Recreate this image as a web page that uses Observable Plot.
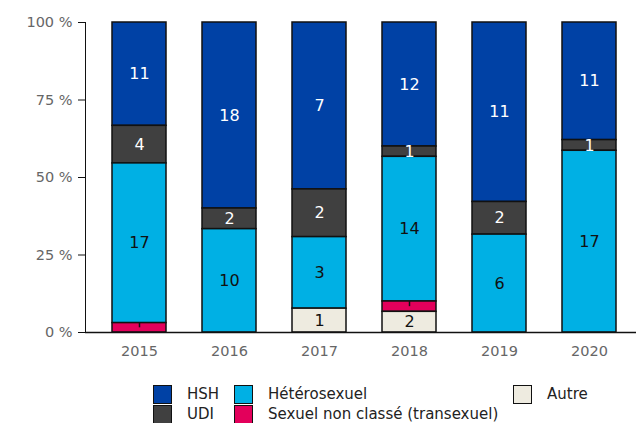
<!DOCTYPE html>
<html>
<head>
<meta charset="utf-8">
<script src="https://cdn.jsdelivr.net/npm/d3@7"></script>
<script src="https://cdn.jsdelivr.net/npm/@observablehq/plot@0.6"></script>
<style>
  body { margin: 0; background: #fff; font-family: "DejaVu Sans", sans-serif; }
  #wrap { position: relative; width: 636px; height: 423px; overflow: hidden; }
  #chart g[aria-label^="y-axis"] text, #chart g[aria-label^="x-axis"] text { fill: #666; }
  #legend { position: absolute; left: 153px; top: 385px; display: grid;
    grid-template-columns: 81px 279px auto; row-gap: 1px; font-size: 15px; line-height: 17px; color: #222; }
  .item { display: flex; align-items: center; height: 19px; }
  .sw { width: 17px; height: 17px; border: 1px solid #111; margin-right: 15px; flex: none; }
</style>
</head>
<body>
<div id="wrap">
  <div id="chart"></div>
  <div id="legend"></div>
</div>
<script>
const years = ["2015", "2016", "2017", "2018", "2019", "2020"];
const categories = ["HSH", "UDI", "Hétérosexuel", "Sexuel non classé (transexuel)", "Autre"];
const colors = ["#0041a5", "#404040", "#00b0e4", "#e3005b", "#eeebe0"];
const hsh = [11, 18, 7, 12, 11, 11];
const udi = [4, 2, 2, 1, 2, 1];
const hetero = [17, 10, 3, 14, 6, 17];
const sexuelNC = [1, 0, 0, 1, 0, 0];
const autre = [0, 0, 1, 2, 0, 0];
const yTicks = [0, 0.25, 0.5, 0.75, 1];

const series = [hsh, udi, hetero, sexuelNC, autre];
const table = [];
years.forEach((yr, i) => {
  categories.forEach((c, k) => {
    const v = series[k][i];
    if (v > 0) table.push({year: yr, cat: c, value: v});
  });
});
const stackOrder = ["Autre", "Sexuel non classé (transexuel)", "Hétérosexuel", "UDI", "HSH"];
const st = (extra) => Plot.stackY({x: "year", y: "value", z: "cat", order: stackOrder, offset: "normalize", ...extra});
const ruleStack = st({});

const chart = Plot.plot({
  width: 636,
  height: 370,
  marginLeft: 85,
  marginRight: 0,
  marginTop: 22,
  marginBottom: 38,
  style: {fontFamily: "DejaVu Sans", fontSize: "14.5px", color: "#111", background: "white"},
  x: {domain: years, paddingInner: 0.4, paddingOuter: 0.261, align: 0.574, tickSize: 0, tickPadding: 13, label: null},
  y: {domain: [0, 1], ticks: yTicks, tickFormat: d => Math.round(d * 100) + " %", tickSize: 7, tickPadding: 6, label: null, line: true},
  color: {domain: categories, range: colors, legend: false},
  marks: [
    Plot.barY(table, st({fill: "cat", stroke: "#111", strokeWidth: 1.5})),
    Plot.ruleX(table, {...ruleStack, y1: ruleStack.y, y2: ruleStack.y2, stroke: "#111", strokeWidth: 1.5,
      strokeOpacity: d => d.cat === "Sexuel non classé (transexuel)" ? 1 : 0}),
    Plot.text(table, st({text: d => (d.cat === "HSH" || d.cat === "UDI") ? String(d.value) : "", fill: "white", fontSize: 16})),
    Plot.text(table, st({text: d => (d.cat === "Hétérosexuel" || d.cat === "Autre") ? String(d.value) : "", fill: "#111", fontSize: 16})),
    Plot.ruleY([0], {stroke: "#111", strokeWidth: 1.5})
  ]
});
document.getElementById("chart").appendChild(chart);

const legendOrder = ["HSH", "Hétérosexuel", "Autre", "UDI", "Sexuel non classé (transexuel)"];
const legend = document.getElementById("legend");
legendOrder.forEach(c => {
  const it = document.createElement("div");
  it.className = "item";
  const sw = document.createElement("span");
  sw.className = "sw";
  sw.style.background = colors[categories.indexOf(c)];
  const lb = document.createElement("span");
  lb.textContent = c;
  it.appendChild(sw);
  it.appendChild(lb);
  legend.appendChild(it);
});
</script>
</body>
</html>
